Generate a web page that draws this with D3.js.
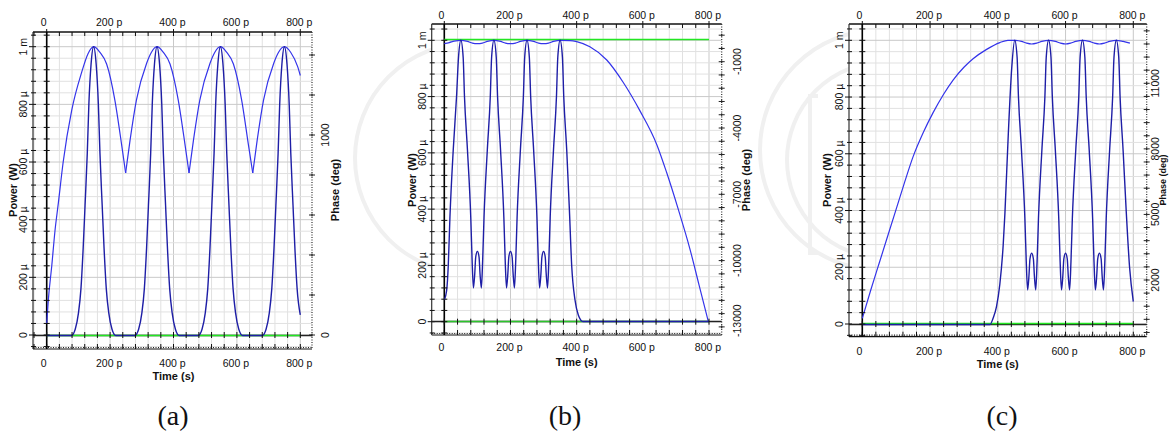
<!DOCTYPE html>
<html>
<head>
<meta charset="utf-8">
<script src="https://cdn.jsdelivr.net/npm/d3@7"></script>
<style>
body { margin: 0; background: #fff; }
text { font-family: "Liberation Sans", Arial, sans-serif; }
</style>
</head>
<body>
<svg id="chart" width="1169" height="436"></svg>
<script>
// axis ticks and labels (time in ps, power in mW)
var timeTicks = [0, 200, 400, 600, 800];
var timeLabels = ["0", "200 p", "400 p", "600 p", "800 p"];
var powerTicks = [0, 0.2, 0.4, 0.6, 0.8, 1];
var powerLabels = ["0", "200 µ", "400 µ", "600 µ", "800 µ", "1 m"];
var phaseTicksA = [0, 1000];
var phaseTicksB = [-1000, -4000, -7000, -10000, -13000];
var phaseTicksC = [2000, 5000, 8000, 11000];
var captions = ["(a)", "(b)", "(c)"];

// (a) broad envelope (sharp minima at cuspsA) and narrow pulse train
var broadA = [[0,0.04],[5,0.12],[16,0.24],[26,0.36],[37,0.46],[52,0.6],[79,0.78],[110,0.91],[130,0.975],[148,1],
  [168,0.98],[189,0.94],[215,0.815],[237,0.655],[249,0.562],[263,0.676],[283,0.815],[315,0.942],[330,0.98],[348,1],
  [368,0.98],[389,0.94],[415,0.815],[437,0.655],[449,0.562],[463,0.676],[483,0.815],[515,0.942],[530,0.98],[548,1],
  [568,0.98],[589,0.94],[615,0.815],[637,0.655],[650,0.562],[664,0.676],[684,0.815],[716,0.942],[731,0.98],[750,1],
  [770,0.98],[792,0.93],[800,0.9]];
var cuspsA = [249, 449, 650];
var pulsesA = [[0,0],
  [78,0],[90,0.02],[100,0.075],[108,0.16],[115,0.3],[121,0.45],[128,0.63],[133,0.8],[140,0.94],[148,1],
  [156,0.94],[163,0.8],[168,0.63],[175,0.45],[181,0.3],[188,0.16],[196,0.075],[206,0.02],[218,0],
  [278,0],[290,0.02],[300,0.075],[308,0.16],[315,0.3],[321,0.45],[328,0.63],[333,0.8],[340,0.94],[348,1],
  [356,0.94],[363,0.8],[368,0.63],[375,0.45],[381,0.3],[388,0.16],[396,0.075],[406,0.02],[418,0],
  [478,0],[490,0.02],[500,0.075],[508,0.16],[515,0.3],[521,0.45],[528,0.63],[533,0.8],[540,0.94],[548,1],
  [556,0.94],[563,0.8],[568,0.63],[575,0.45],[581,0.3],[588,0.16],[596,0.075],[606,0.02],[618,0],
  [680,0],[692,0.02],[702,0.075],[710,0.16],[717,0.3],[723,0.45],[730,0.63],[735,0.8],[742,0.94],[750,1],
  [758,0.94],[765,0.8],[770,0.63],[777,0.45],[783,0.3],[790,0.16],[800,0.07]];
var phaseA = [[0,0],[800,0]];

// (b)
var broadB = [[0,0.988],[15,0.992],[30,0.997],[50,1],[70,0.996],[85,0.99],[100,0.988],[115,0.99],[130,0.996],[150,1],
  [170,0.996],[185,0.99],[200,0.988],[215,0.99],[230,0.996],[250,1],[270,0.996],[285,0.99],[300,0.988],[315,0.99],
  [330,0.996],[350,1],[380,0.999],[400,0.995],[440,0.977],[491,0.93],[541,0.85],[591,0.75],[642,0.63],[672,0.53],
  [707,0.4],[742,0.26],[770,0.13],[798,0]];
var pulsesB = [[0,0.077],[7,0.11],[12,0.2],[17,0.37],[27,0.61],[37,0.8],[43,0.94],[50,1],
  [57,0.94],[61,0.8],[70,0.61],[80,0.37],[84,0.22],[88,0.12],[92,0.17],[95,0.23],[100,0.25],[105,0.23],[108,0.17],[112,0.12],
  [116,0.22],[120,0.37],[130,0.61],[139,0.8],[143,0.94],[150,1],
  [157,0.94],[161,0.8],[170,0.61],[180,0.37],[184,0.22],[188,0.12],[192,0.17],[195,0.23],[200,0.25],[205,0.23],[208,0.17],[212,0.12],
  [216,0.22],[220,0.37],[230,0.61],[239,0.8],[243,0.94],[250,1],
  [257,0.94],[261,0.8],[270,0.61],[280,0.37],[284,0.22],[288,0.12],[292,0.17],[295,0.23],[300,0.25],[305,0.23],[308,0.17],[312,0.12],
  [316,0.22],[320,0.37],[330,0.61],[339,0.8],[343,0.94],[350,1],
  [357,0.94],[361,0.8],[370,0.61],[378,0.4],[385,0.2],[395,0.077],[405,0.024],[419,0],[800,0]];
var phaseB = [[0,0],[800,0]];
var zeroB = [[0,0],[800,0]];

// (c)
var broadC = [[0,0.02],[25,0.12],[50,0.215],[75,0.31],[100,0.405],[125,0.5],[150,0.59],[180,0.675],[209,0.745],
  [240,0.81],[268,0.86],[300,0.905],[327,0.935],[367,0.968],[406,0.992],[430,1],
  [450,1],[470,0.996],[485,0.99],[500,0.987],[515,0.99],[530,0.996],[550,1],
  [570,0.996],[585,0.99],[600,0.987],[615,0.99],[630,0.996],[650,1],
  [670,0.996],[685,0.99],[700,0.987],[715,0.99],[730,0.996],[750,1],[770,0.996],[790,0.99]];
var pulsesC = [[0,0],[377,0],[386,0.02],[396,0.06],[406,0.14],[416,0.28],[421,0.39],[431,0.67],[441,0.9],[450,1],
  [457,0.94],[461,0.8],[470,0.61],[480,0.37],[484,0.22],[488,0.12],[492,0.17],[495,0.23],[500,0.25],[505,0.23],[508,0.17],[512,0.12],
  [516,0.22],[520,0.37],[530,0.61],[539,0.8],[543,0.94],[550,1],
  [557,0.94],[561,0.8],[570,0.61],[580,0.37],[584,0.22],[588,0.12],[592,0.17],[595,0.23],[600,0.25],[605,0.23],[608,0.17],[612,0.12],
  [616,0.22],[620,0.37],[630,0.61],[639,0.8],[643,0.94],[650,1],
  [657,0.94],[661,0.8],[670,0.61],[680,0.37],[684,0.22],[688,0.12],[692,0.17],[695,0.23],[700,0.25],[705,0.23],[708,0.17],[712,0.12],
  [716,0.22],[720,0.37],[730,0.61],[739,0.8],[743,0.94],[750,1],
  [757,0.94],[761,0.8],[770,0.61],[779,0.4],[789,0.2],[800,0.079]];
var phaseC = [[0,0],[800,0]];

var svg = d3.select("#chart");

// faint watermark behind the panels
var wm = svg.append("g").attr("fill", "none").attr("stroke", "#f0f0f0").attr("stroke-width", 4);
wm.append("circle").attr("cx", 470).attr("cy", 158).attr("r", 115);
wm.append("circle").attr("cx", 880).attr("cy", 150).attr("r", 120);
wm.append("circle").attr("cx", 885).attr("cy", 160).attr("r", 98);
wm.append("path").attr("d", "M818,96H810V253H818");

var panels = [
  {frame: {l: 33, t: 32, r: 312, b: 349}, xr: [46.7, 300.3], yr: [335, 46.7],
   phDom: [0, 1000], phRange: [335, 135], phStep: 200, phAnchor: 0, phTicks: phaseTicksA,
   topY: 25.5, botY: 366.8, titleY: 379.5, yLabX: 27.1, powX: 17.3, midY: 190, phLabX: 328.8, phTitleX: 339, phTitleSize: 11, capX: 173,
   broad: broadA, cusps: cuspsA, pulses: pulsesA, phase: [phaseA], zero: []},
  {frame: {l: 431.7, t: 24, r: 721.7, b: 335}, xr: [444.3, 709], yr: [321.7, 40.3],
   phDom: [-1000, -13000], phRange: [61.7, 326.9], phStep: 600, phAnchor: -1000, phTicks: phaseTicksB,
   topY: 18.8, botY: 350.5, titleY: 365.7, yLabX: 425.5, powX: 415.7, midY: 180, phLabX: 740.5, phTitleX: 750, phTitleSize: 11, capX: 565,
   broad: broadB, cusps: [], pulses: pulsesB, phase: [phaseB], zero: [zeroB]},
  {frame: {l: 849, t: 24, r: 1146.7, b: 336.7}, xr: [862.3, 1133.3], yr: [324, 40.3],
   phDom: [2000, 11000], phRange: [280, 83.3], phStep: 600, phAnchor: 2000, phTicks: phaseTicksC,
   topY: 18.8, botY: 354.5, titleY: 368, yLabX: 843.1, powX: 830.7, midY: 180, phLabX: 1159.3, phTitleX: 1166.3, phTitleSize: 9, capX: 1002,
   broad: broadC, cusps: [], pulses: pulsesC, phase: [phaseC], zero: []}
];

// split a series at its cusp times so the spline keeps the sharp corners
function splitAt(series, cusps) {
  var parts = [[]];
  series.forEach(function(d) {
    parts[parts.length - 1].push(d);
    if (cusps.indexOf(d[0]) >= 0) parts.push([d]);
  });
  return parts;
}

// snap a horizontal line to the pixel grid so it draws as one sharp row
function snap(v) { return Math.round(v - 0.5) + 0.5; }

panels.forEach(function(p, i) {
  var f = p.frame;
  var x = d3.scaleLinear().domain([0, 800]).range(p.xr);
  var y = d3.scaleLinear().domain([0, 1]).range(p.yr);
  var ph = d3.scaleLinear().domain(p.phDom).range(p.phRange);
  var g = svg.append("g");

  g.append("rect").attr("x", f.l).attr("y", f.t).attr("width", f.r - f.l).attr("height", f.b - f.t).attr("fill", "#fff");

  // grid every 40 p / 40 µ
  var tK = d3.range(Math.ceil(x.invert(f.l) / 40), Math.floor(x.invert(f.r) / 40) + 1);
  var pK = d3.range(Math.ceil(y.invert(f.b) * 25), Math.floor(y.invert(f.t) * 25) + 1);
  g.selectAll(".vg").data(tK).enter().append("line")
    .attr("x1", function(k) { return x(k * 40); }).attr("x2", function(k) { return x(k * 40); })
    .attr("y1", f.t).attr("y2", f.b)
    .attr("stroke", function(k) { return k % 5 === 0 ? "#c9c9c9" : "#e1e1e1"; }).attr("stroke-width", 1);
  g.selectAll(".hg").data(pK).enter().append("line")
    .attr("y1", function(k) { return y(k / 25); }).attr("y2", function(k) { return y(k / 25); })
    .attr("x1", f.l).attr("x2", f.r)
    .attr("stroke", function(k) { return k % 5 === 0 ? "#c9c9c9" : "#e1e1e1"; }).attr("stroke-width", 1);

  // frame
  g.append("line").attr("x1", f.l).attr("x2", f.r).attr("y1", f.t).attr("y2", f.t).attr("stroke", "#111").attr("stroke-width", 1.4);
  g.append("line").attr("x1", f.l).attr("x2", f.l).attr("y1", f.t).attr("y2", f.b).attr("stroke", "#333").attr("stroke-width", 1.2);
  g.append("line").attr("x1", f.l).attr("x2", f.r).attr("y1", f.b).attr("y2", f.b).attr("stroke", "#111").attr("stroke-width", 1.2);
  g.append("line").attr("x1", f.l).attr("x2", f.r).attr("y1", f.b - 1.5).attr("y2", f.b - 1.5)
    .attr("stroke", "#222").attr("stroke-width", 1.2).attr("stroke-dasharray", "1,1.5");
  g.append("line").attr("x1", f.r).attr("x2", f.r).attr("y1", f.t).attr("y2", f.b)
    .attr("stroke", "#333").attr("stroke-width", 1.2).attr("stroke-dasharray", "1,1.5");

  // top and bottom frame ticks
  g.selectAll(".tt").data(tK).enter().append("line")
    .attr("x1", function(k) { return x(k * 40); }).attr("x2", function(k) { return x(k * 40); })
    .attr("y1", function(k) { return k % 5 === 0 ? f.t - 3 : f.t; }).attr("y2", f.t + 4)
    .attr("stroke", "#111");
  g.selectAll(".bt").data(tK).enter().append("line")
    .attr("x1", function(k) { return x(k * 40); }).attr("x2", function(k) { return x(k * 40); })
    .attr("y1", f.b - 5).attr("y2", f.b)
    .attr("stroke", "#111");

  // left frame ticks
  g.selectAll(".lt").data(pK).enter().append("line")
    .attr("y1", function(k) { return y(k / 25); }).attr("y2", function(k) { return y(k / 25); })
    .attr("x1", function(k) { return k % 5 === 0 ? f.l - 4 : f.l - 2; }).attr("x2", f.l + 3)
    .attr("stroke", "#111");

  // phase axis ticks on the right frame
  var phLo = Math.min(ph.invert(f.t), ph.invert(f.b)), phHi = Math.max(ph.invert(f.t), ph.invert(f.b));
  var phK = d3.range(Math.ceil((phLo - p.phAnchor) / p.phStep), Math.floor((phHi - p.phAnchor) / p.phStep) + 1);
  g.selectAll(".pt").data(phK).enter().append("line")
    .attr("y1", function(k) { return ph(p.phAnchor + k * p.phStep); }).attr("y2", function(k) { return ph(p.phAnchor + k * p.phStep); })
    .attr("x1", f.r - 3).attr("x2", f.r + 3).attr("stroke", "#222");
  g.selectAll(".pt2").data(phK).enter().append("line")
    .attr("y1", function(k) { return ph(p.phAnchor + k * p.phStep) - 1.5; }).attr("y2", function(k) { return ph(p.phAnchor + k * p.phStep) + 1.5; })
    .attr("x1", f.r).attr("x2", f.r).attr("stroke", "#222");

  // zero axes
  g.append("line").attr("x1", f.l).attr("x2", f.r).attr("y1", snap(y(0))).attr("y2", snap(y(0)))
    .attr("stroke", "#222").attr("stroke-width", 1.4);
  g.append("line").attr("x1", x(0)).attr("x2", x(0)).attr("y1", f.t).attr("y2", f.b)
    .attr("stroke", "#000").attr("stroke-width", 1.6);

  // traces; points sitting at zero power are snapped onto the axis row
  var clipId = "clip" + i;
  svg.append("clipPath").attr("id", clipId).append("rect")
    .attr("x", f.l).attr("y", f.t).attr("width", f.r - f.l).attr("height", f.b - f.t);
  var tr = g.append("g").attr("clip-path", "url(#" + clipId + ")").attr("fill", "none");
  var phLine = d3.line().x(function(d) { return x(d[0]); }).y(function(d) { return snap(ph(d[1])); });
  var zLine = d3.line().x(function(d) { return x(d[0]); }).y(function(d) { return snap(y(d[1])); });
  var pLine = d3.line().x(function(d) { return x(d[0]); })
    .y(function(d) { return d[1] === 0 ? snap(y(0)) : y(d[1]); }).curve(d3.curveMonotoneX);
  p.phase.forEach(function(s) {
    tr.append("path").datum(s).attr("d", phLine).attr("stroke", "#22e622").attr("stroke-width", 1.4);
  });
  p.zero.forEach(function(s) {
    tr.append("path").datum(s).attr("d", zLine).attr("stroke", "#2cc42c").attr("stroke-width", 1.4);
  });
  splitAt(p.broad, p.cusps).forEach(function(part) {
    tr.append("path").datum(part).attr("d", pLine).attr("stroke", "#3434ea").attr("stroke-width", 1.2);
  });
  tr.append("path").datum(p.pulses).attr("d", pLine).attr("stroke", "#1e1ea6").attr("stroke-width", 1.4);

  // ticks on the zero axes, drawn over the traces
  g.selectAll(".xt").data(tK).enter().append("line")
    .attr("x1", function(k) { return x(k * 40); }).attr("x2", function(k) { return x(k * 40); })
    .attr("y1", y(0) - 3).attr("y2", y(0) + 3).attr("stroke", "#111");
  g.selectAll(".yt").data(pK).enter().append("line")
    .attr("y1", function(k) { return y(k / 25); }).attr("y2", function(k) { return y(k / 25); })
    .attr("x1", x(0) - 3).attr("x2", x(0) + 3).attr("stroke", "#111");

  // tick labels
  var lab = g.append("g").attr("font-size", "10.5px").attr("fill", "#111");
  timeTicks.forEach(function(t, j) {
    var dx = t === 0 ? -3 : -1;
    lab.append("text").attr("x", x(t) + dx).attr("y", p.topY).attr("text-anchor", "middle").text(timeLabels[j]);
    lab.append("text").attr("x", x(t) + dx).attr("y", p.botY).attr("text-anchor", "middle").text(timeLabels[j]);
  });
  powerTicks.forEach(function(v, j) {
    lab.append("text").attr("transform", "translate(" + p.yLabX + "," + y(v) + ") rotate(-90)")
      .attr("text-anchor", "middle").text(powerLabels[j]);
  });
  p.phTicks.forEach(function(v) {
    var t = lab.append("text").attr("transform", "translate(" + p.phLabX + "," + ph(v) + ") rotate(-90)")
      .attr("text-anchor", "middle").text(v);
    var half = t.node().getComputedTextLength() / 2;
    var cy = Math.min(ph(v), f.b + 2 - half);
    t.attr("transform", "translate(" + p.phLabX + "," + cy + ") rotate(-90)");
  });

  // axis titles
  var ttl = g.append("g").attr("font-size", "11px").attr("font-weight", "bold").attr("fill", "#111").attr("text-anchor", "middle");
  ttl.append("text").attr("x", x(400)).attr("y", p.titleY).text("Time (s)");
  ttl.append("text").attr("transform", "translate(" + p.powX + "," + p.midY + ") rotate(-90)").text("Power (W)");
  ttl.append("text").attr("transform", "translate(" + p.phTitleX + "," + p.midY + ") rotate(-90)")
    .attr("font-size", p.phTitleSize + "px").text("Phase (deg)");

  // panel caption
  svg.append("text").attr("x", p.capX).attr("y", 425).attr("text-anchor", "middle")
    .style("font-family", "'Liberation Serif', 'Times New Roman', serif").attr("font-size", "28px").attr("fill", "#111")
    .text(captions[i]);
});
</script>
</body>
</html>
